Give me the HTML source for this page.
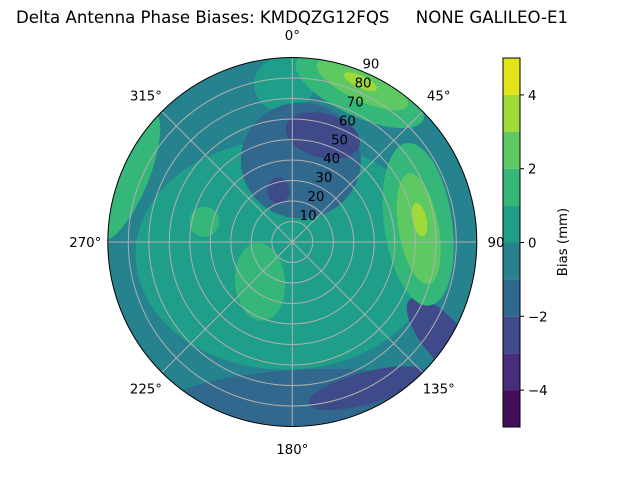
<!DOCTYPE html>
<html><head><meta charset="utf-8"><style>
body{margin:0;background:#fff;font-family:"DejaVu Sans","Liberation Sans",sans-serif;}
svg text{font-family:"DejaVu Sans","Liberation Sans",sans-serif;font-size:13.3px;fill:#000;}
</style></head><body>
<svg width="640" height="480" viewBox="0 0 640 480">
<text x="292" y="23" text-anchor="middle" style="white-space:pre;font-size:16.6px">Delta Antenna Phase Biases: KMDQZG12FQS     NONE GALILEO-E1</text>
<defs><clipPath id="pc"><circle cx="292.3" cy="242" r="184.5"/></clipPath></defs>
<g id="plot" clip-path="url(#pc)"></g>
<g id="grid"></g>
<circle cx="292.3" cy="242" r="184.5" fill="none" stroke="#000" stroke-width="1"/>
<g id="cbar"></g>
<text transform="translate(567,242) rotate(-90)" text-anchor="middle">Bias (mm)</text>
</svg>
<script>
// blob data: azimuth (deg), zenith (deg), bias value (mm)
const blobAz  = [208, 357, 6, 177, 16, 345, 153, 123, 82, 24, 219, 283, 292, 84, 24, 80, 23];
const blobZen = [7, 77, 40, 78, 54, 26, 80, 89, 62, 81, 25, 44, 87, 62, 84, 63, 85];
const blobVal = [0.5, 0.5, -1.5, -1.5, -2.5, -2.5, -2.5, -2.5, 1.5, 1.5, 1.5, 1.5, 1.5, 2.5, 2.5, 3.5, 3.5];
// shape (px) — not data
const blobRx  = [150, 30, 60, 140, 38, 11, 60, 20, 34, 70, 25, 15, 22, 20, 50, 7, 18];
const blobRy  = [115, 28, 58, 32, 22, 13, 16, 55, 82, 26, 39, 15, 70, 56, 16, 17, 6];
const blobRot = [0, 0, 0, -3, 15, 0, -15, -40, -8, 25, -5, 0, 22, -10, 25, -12, 25];
const levels = [-5,-4,-3,-2,-1,0,1,2,3,4,5];
const colors = ["#440f5a","#472d7b","#3e4a89","#31688e","#26828e","#1f9e89","#35b779","#5ec962","#a0da39","#e2e418"];
const tickVals = [-4,-2,0,2,4];
const ringVals = [10,20,30,40,50,60,70,80,90];
const azTicks = [0,45,90,135,180,225,270,315];

const NS="http://www.w3.org/2000/svg";
const cx=292.3, cy=242, R=184.5, zMax=90;
function rScale(z){return z/zMax*R;}
function pos(az,z){const a=az*Math.PI/180, r=rScale(z);return [cx+r*Math.sin(a), cy-r*Math.cos(a)];}
function colorOf(v){for(let i=0;i<levels.length-1;i++){if(v>=levels[i]&&v<levels[i+1])return colors[i];}return colors[colors.length-1];}
function mk(t,a,p){const e=document.createElementNS(NS,t);for(const k in a)e.setAttribute(k,a[k]);p.appendChild(e);return e;}

const plot=document.getElementById('plot');
const bg=mk('circle',{cx:cx,cy:cy,r:R,fill:colorOf(-0.5)},plot);


blobAz.forEach((az,i)=>{
  const [x,y]=pos(az,blobZen[i]);
  const e=mk('ellipse',{cx:x,cy:y,rx:blobRx[i],ry:blobRy[i],fill:colorOf(blobVal[i]),transform:`rotate(${blobRot[i]} ${x} ${y})`},plot);
  
  
});

const grid=document.getElementById('grid');
ringVals.forEach(v=>{
  if(v<zMax){
    const c=mk('circle',{cx:cx,cy:cy,r:rScale(v),fill:'none',stroke:'#b0b0b0','stroke-width':1},grid);
    
    
  }
  const [x,y]=pos(22.5,v);
  const t=mk('text',{x:x+8,y:y-3,'text-anchor':'middle'},grid);
  t.textContent=v;
  
  
});
azTicks.forEach(a=>{
  const [x1,y1]=pos(a,zMax),[x0,y0]=pos(a+180,zMax);
  if(a<180){
    const l=mk('line',{x1:x0,y1:y0,x2:x1,y2:y1,stroke:'#b0b0b0','stroke-width':1},grid);
    
    
  }
  const [tx,ty]=pos(a,zMax+11);
  const t=mk('text',{x:tx,y:ty+5,'text-anchor':'middle'},grid);
  t.textContent=a+'°';
  
  
});

const cb=document.getElementById('cbar');
const cbX=503,cbW=17,cbTop=58,cbBot=427;
function cbY(v){return cbBot-(v-levels[0])/(levels[levels.length-1]-levels[0])*(cbBot-cbTop);}
colors.forEach((c,i)=>{
  const y1=cbY(levels[i+1]),y0=cbY(levels[i]);
  const r=mk('rect',{x:cbX,y:y1,width:cbW,height:y0-y1,fill:c},cb);
  
  
});
const fr=mk('rect',{x:cbX,y:cbTop,width:cbW,height:cbBot-cbTop,fill:'none',stroke:'#000','stroke-width':1},cb);


tickVals.forEach(v=>{
  const y=cbY(v);
  const l=mk('line',{x1:cbX+cbW,y1:y,x2:cbX+cbW+4,y2:y,stroke:'#000'},cb);
  
  
  const t=mk('text',{x:cbX+cbW+8,y:y+5},cb);
  t.textContent=v<0?'\u2212'+Math.abs(v):v;
  
  
});
</script>
</body></html>
